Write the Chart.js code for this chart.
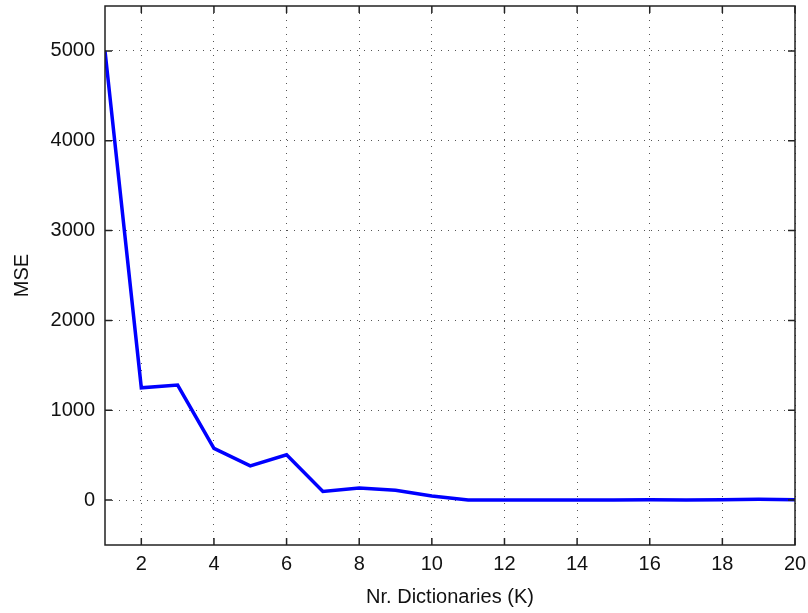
<!DOCTYPE html>
<html><head><meta charset="utf-8">
<script src="https://cdn.jsdelivr.net/npm/chart.js@4/dist/chart.umd.min.js"></script>
<style>html,body{margin:0;padding:0;background:#fff}#wrap{width:808px;height:613px}</style>
</head><body><div id="wrap"><canvas id="c" width="808" height="613"></canvas></div>
<script>
const kValues = [1,2,3,4,5,6,7,8,9,10,11,12,13,14,15,16,17,18,19,20];
const mseValues = [5000,1250,1280,575,380,505,95,135,110,45,2,2,2,2,2,3,2,3,8,5];
const xTicks = [2,4,6,8,10,12,14,16,18,20];
const yTicks = [0,1000,2000,3000,4000,5000];

const FONT = "'Liberation Sans', Arial, sans-serif";

const boxPlugin = {
  id:'box',
  afterDraw(chart){
    const {ctx, chartArea:a, scales:{x,y}} = chart;
    ctx.save();
    ctx.strokeStyle='#222';ctx.lineWidth=1.5;
    ctx.strokeRect(a.left,a.top,a.right-a.left,a.bottom-a.top);
    const L=7;
    ctx.beginPath();
    xTicks.forEach(v=>{const px=x.getPixelForValue(v);
      ctx.moveTo(px,a.bottom);ctx.lineTo(px,a.bottom-L);
      ctx.moveTo(px,a.top);ctx.lineTo(px,a.top+L);});
    yTicks.forEach(v=>{const py=y.getPixelForValue(v);
      ctx.moveTo(a.left,py);ctx.lineTo(a.left+L,py);
      ctx.moveTo(a.right,py);ctx.lineTo(a.right-L,py);});
    ctx.stroke();
    ctx.restore();
  }
};

new Chart(document.getElementById('c'),{
  type:'line',
  data:{datasets:[{
    data:kValues.map((k,i)=>({x:k,y:mseValues[i]})),
    borderColor:'#0000ff',borderWidth:3.5,pointRadius:0,tension:0,fill:false
  }]},
  options:{
    responsive:false,animation:false,
    plugins:{legend:{display:false},tooltip:{enabled:false}},
    layout:{padding:{top:6,right:13,left:0,bottom:0}},
    scales:{
      x:{type:'linear',min:1,max:20,
        afterBuildTicks(s){s.ticks=xTicks.map(v=>({value:v}));},
        afterFit(s){s.height=68;s.paddingRight=0;s.paddingLeft=0;},
        grid:{color:'#555',lineWidth:1,drawTicks:false,tickLength:0},
        border:{display:false,dash:[1,6]},
        ticks:{color:'#111',font:{family:FONT,size:20},padding:7,maxRotation:0,callback:v=>String(v)},
        title:{display:true,text:'Nr. Dictionaries (K)',color:'#111',font:{family:FONT,size:20},padding:{top:4}}
      },
      y:{min:-500,max:5500,
        afterBuildTicks(s){s.ticks=yTicks.map(v=>({value:v}));},
        afterFit(s){s.width=105;s.paddingTop=0;s.paddingBottom=0;},
        grid:{color:'#555',lineWidth:1,drawTicks:false,tickLength:0},
        border:{display:false,dash:[1,6]},
        ticks:{color:'#111',font:{family:FONT,size:20},padding:10,callback:v=>String(v)},
        title:{display:true,text:'MSE',color:'#111',font:{family:FONT,size:20},padding:{bottom:0,top:10}}
      }
    }
  },
  plugins:[boxPlugin]
});
</script></body></html>
